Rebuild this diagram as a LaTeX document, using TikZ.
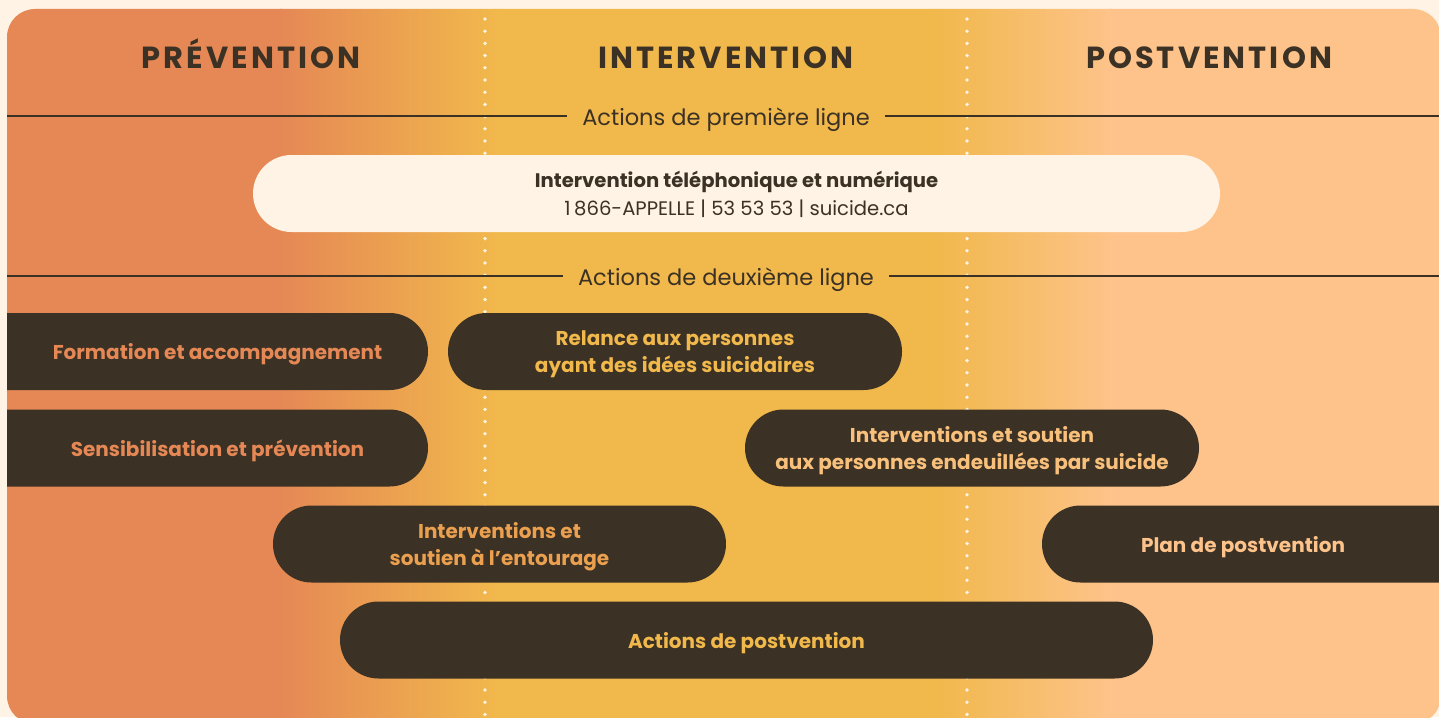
\documentclass[tikz,border=0pt]{standalone}
\usepackage{fontspec}
\setmainfont{Poppins}
\newfontfamily\headfont[LetterSpace=10]{Poppins}
\definecolor{cream}{HTML}{FEF3E5}
\definecolor{orng}{HTML}{E58855}
\definecolor{yelw}{HTML}{F1B84C}
\definecolor{pech}{HTML}{FDC38A}
\definecolor{dark}{HTML}{3B3124}
\definecolor{midor}{HTML}{EBA050}
\definecolor{midpe}{HTML}{F9C07C}
\tikzset{
  pill/.style={fill=dark, rounded corners=38.5, minimum height=77, inner sep=0},
  pilltext/.style={inner sep=0, align=center, font=\fontsize{20}{27}\selectfont\bfseries},
  lighttag/.style={fill=cream, rounded corners=38.5, minimum height=77, inner sep=0},
  heading/.style={text=dark, anchor=base, inner sep=0, font=\headfont\fontsize{30.5}{32}\selectfont\bfseries},
  rowtitle/.style={text=dark, anchor=base, inner xsep=15, inner ysep=0, font=\fontsize{22.5}{24}\selectfont},
  rule/.style={draw=dark, line width=1.1},
  dot/.style={fill=cream}
}
\begin{document}
\begin{tikzpicture}[x=1pt,y=-1pt]
\useasboundingbox (0,0) rectangle (1439,717);
\fill[cream] (0,0) rectangle (1439,717);
\begin{scope}
\clip[rounded corners=28] (7,9) rectangle (1441,724);
\fill[orng] (6,8) rectangle (282,725);
\shade[left color=orng, right color=yelw] (280,8) rectangle (497,725);
\fill[yelw] (495,8) rectangle (937,725);
\shade[left color=yelw, right color=pech] (935,8) rectangle (1112,725);
\fill[pech] (1110,8) rectangle (1442,725);
% dotted separators
\foreach \yy in {19,31.2,...,717} {
  \fill[dot] (485,\yy) circle (1.9);
  \fill[dot] (967,\yy) circle (1.9);
}
% headings
\node[heading] (h1) at (251,68) {PRÉVENTION};
\node[heading] (h2) at (726,68) {INTERVENTION};
\node[heading] (h3) at (1209,68) {POSTVENTION};
% row titles with rules
\coordinate (l1a) at (7,116);
\coordinate (l1b) at (1441,116);
\node[rowtitle] (r1) at (726,125) {Actions de première ligne};
\draw[rule] (l1a) -- (l1a -| r1.west);
\draw[rule] (l1b -| r1.east) -- (l1b);
\coordinate (l2a) at (7,276);
\coordinate (l2b) at (1441,276);
\node[rowtitle] (r2) at (726,285) {Actions de deuxième ligne};
\draw[rule] (l2a) -- (l2a -| r2.west);
\draw[rule] (l2b -| r2.east) -- (l2b);
% first line
\node[lighttag, minimum width=967] (tel) at (736.5,193.5) {};
\node[pilltext, text=dark, font=\fontsize{19.6}{28}\selectfont] (telt) at (736.5,194)
  {{\bfseries Intervention téléphonique et numérique}\\
   1\hspace{3.5pt}866-APPELLE | 53 53 53 | suicide.ca};
% second line
\node[pill, minimum width=500] (form) at (178,351.5) {};
\node[pilltext, text=orng] (formt) at (217.5,354.5) {Formation et accompagnement};
\node[pill, minimum width=454] (rel) at (675,351.5) {};
\node[pilltext, text=yelw] (relt) at (675,354.5) {Relance aux personnes\\ayant des idées suicidaires};
\node[pill, minimum width=500] (sens) at (178,448) {};
\node[pilltext, text=orng] (senst) at (217.5,451) {Sensibilisation et prévention};
\node[pill, minimum width=454] (endeuil) at (972,448) {};
\node[pilltext, text=midpe] (endeuilt) at (972,451) {Interventions et soutien\\aux personnes endeuillées par suicide};
\node[pill, minimum width=453] (ent) at (499.5,544) {};
\node[pilltext, text=midor] (entt) at (499.5,547) {Interventions et\\soutien à l’entourage};
\node[pill, minimum width=500] (plan) at (1292,544) {};
\node[pilltext, text=pech] (plant) at (1243,547) {Plan de postvention};
\node[pill, minimum width=813] (act) at (746.5,640) {};
\node[pilltext, text=yelw] (actt) at (746.5,643) {Actions de postvention};
\end{scope}
\end{tikzpicture}
\end{document}
